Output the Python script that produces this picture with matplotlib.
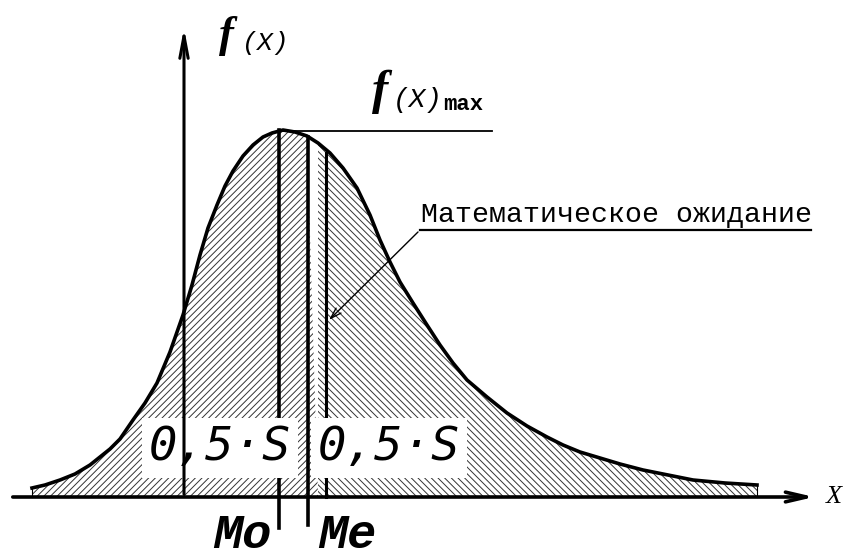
import numpy as np
import matplotlib
matplotlib.use("Agg")
import matplotlib.pyplot as plt

# curve: x position and height above the x axis (pixels)
curve_x = [32, 45, 60, 75, 90, 100, 110, 120, 133, 145, 157, 170, 183, 192, 200, 208,
           217, 225, 233, 243, 253, 263, 272, 283, 295, 307, 318, 330, 343, 357, 370,
           380, 390, 400, 413, 427, 440, 453, 467, 487, 507, 527, 547, 563, 580, 600,
           620, 643, 668, 693, 725, 757]
curve_f = [9, 12, 17, 23, 32, 40, 48, 58, 77, 94, 114, 145, 182, 212, 242, 269,
           292, 311, 326, 341, 352, 360, 364, 367, 365, 361, 354, 344, 329, 309, 282,
           257, 235, 215, 194, 172, 152, 134, 117, 100, 84, 71, 60, 52, 45, 39,
           33, 27, 22, 17, 14, 12]

x_mo = 279     # mode
x_me = 308     # median
x_mean = 326   # expectation
half_label = "0,5·S"
note = "Математическое ожидание"

plt.rcParams['hatch.linewidth'] = 0.7
fig = plt.figure(figsize=(8.47, 5.57), dpi=100)
ax = fig.add_axes([0, 0, 1, 1])
ax.set_xlim(0, 847)
ax.set_ylim(-60, 497)
ax.set_axis_off()

cx = np.array(curve_x, dtype=float)
cf = np.array(curve_f, dtype=float)

# hatched area, split at the median
ax.fill_between(cx, 0, cf, where=cx <= x_me, interpolate=True, facecolor='white',
                edgecolor='#333333', hatch='/////', linewidth=0)
ax.fill_between(cx, 0, cf, where=cx >= x_me, interpolate=True, facecolor='white',
                edgecolor='#333333', hatch='\\\\\\\\\\', linewidth=0)
ax.plot(cx, cf, color='black', linewidth=2.6, solid_joinstyle='round')
ax.plot([cx[0], cx[0]], [0, cf[0]], color='black', linewidth=0.8)
ax.plot([cx[-1], cx[-1]], [0, cf[-1]], color='black', linewidth=0.8)

# vertical markers
ax.plot([x_mo, x_mo], [-31, cf.max()], color='black', linewidth=2.6)
ax.plot([x_me, x_me], [-28, np.interp(x_me, cx, cf)], color='black', linewidth=2.6)
ax.plot([x_mean, x_mean], [0, np.interp(x_mean, cx, cf) - 3], color='black', linewidth=2.2)

# white boxes with 0,5·S
for xc in [220, 389]:
    ax.text(xc, 49, half_label, fontsize=34, family='DejaVu Sans Mono', style='oblique',
            ha='center', va='center',
            bbox=dict(boxstyle='square,pad=0.15', facecolor='white', edgecolor='none'))

# axes with arrows
ax.annotate('', xy=(817, 0), xytext=(10, 0),
            arrowprops=dict(arrowstyle='->,head_length=1.5,head_width=0.35', lw=2.6, color='black'))
ax.annotate('', xy=(184, 472), xytext=(184, 0),
            arrowprops=dict(arrowstyle='->,head_length=1.6,head_width=0.3', lw=2.2, color='black'))
ax.text(826, 0, 'X', fontsize=19, family='Liberation Serif', style='italic', va='center', ha='left')

# f(X) label
ax.text(226, 461, 'f', fontsize=32, family='Liberation Serif', style='italic', weight='bold',
        va='center', ha='center')
ax.text(241, 454, '(X)', fontsize=19, family='Liberation Mono', style='italic',
        va='center', ha='left')

# f(X)max label and leader line
ax.plot([x_mo, 492], [cf.max() - 1, cf.max() - 1], color='black', linewidth=1.3)
ax.text(380, 405, 'f', fontsize=35, family='Liberation Serif', style='italic', weight='bold',
        va='center', ha='center')
ax.text(393, 397, '(X)', fontsize=20, family='Liberation Mono', style='italic',
        va='center', ha='left')
ax.text(443, 387, 'max', fontsize=16, family='Liberation Mono', weight='bold',
        va='baseline', ha='left')

# expectation note
ax.text(421, 282, note, fontsize=20.3, family='Liberation Mono',
        va='center', ha='left')
ax.plot([420, 811], [267, 267], color='black', linewidth=1.6)
ax.annotate('', xy=(x_mean + 1, 175), xytext=(420, 267),
            arrowprops=dict(arrowstyle='->,head_length=0.8,head_width=0.25', lw=1.0, color='black'))

# Mo / Me
ax.text(242, -39, 'Mo', fontsize=35, family='Liberation Mono', style='italic', weight='bold',
        va='center', ha='center')
ax.text(347, -39, 'Me', fontsize=35, family='Liberation Mono', style='italic', weight='bold',
        va='center', ha='center')

fig.savefig('out.png', dpi=100, facecolor='white')
